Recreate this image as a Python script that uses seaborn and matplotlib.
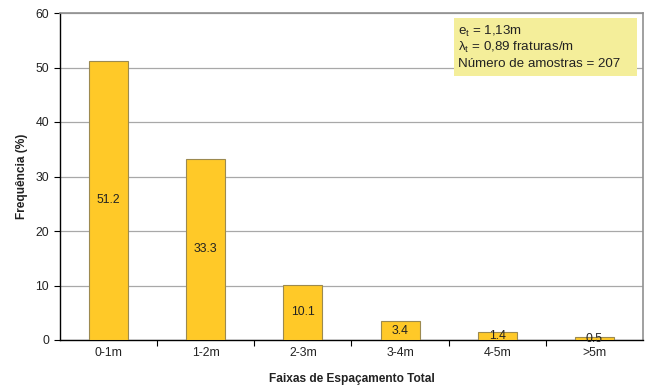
import matplotlib
matplotlib.use("Agg")
import matplotlib.pyplot as plt
import matplotlib.patches as mpatches
import seaborn as sns
import pandas as pd

categories = ["0-1m", "1-2m", "2-3m", "3-4m", "4-5m", ">5m"]
frequencies = [51.2, 33.3, 10.1, 3.4, 1.4, 0.5]
y_ticks = [0, 10, 20, 30, 40, 50, 60]

sns.set_style("white")
plt.rcParams["font.family"] = ["Liberation Sans", "DejaVu Sans"]

df = pd.DataFrame({"faixa": categories, "freq": frequencies})

W, H = 647, 386
fig = plt.figure(figsize=(W / 100, H / 100), dpi=100)
ax = fig.add_axes([60 / W, 46 / H, 583 / W, 327 / H])

sns.barplot(data=df, x="faixa", y="freq", ax=ax, color="#FFC928",
            saturation=1, width=0.4, edgecolor="#9C8A50", linewidth=0.8,
            zorder=3)

ax.set_ylim(0, 60)
ax.set_yticks(y_ticks)
ax.set_xlim(-0.5, len(categories) - 0.5)
ax.yaxis.grid(True, color="#A8A8A8", linewidth=0.9, zorder=0)
ax.set_axisbelow(True)

for s in ["top", "right"]:
    ax.spines[s].set_color("#909090")
    ax.spines[s].set_linewidth(1.2)
for s in ["left", "bottom"]:
    ax.spines[s].set_color("black")
    ax.spines[s].set_linewidth(1.0)

# category ticks sit between the bars
ax.set_xticks([i + 0.5 for i in range(len(categories) - 1)], minor=True)
ax.tick_params(axis="x", which="major", length=0, pad=5, labelsize=8.8,
               labelcolor="#222222")
ax.tick_params(axis="x", which="minor", length=4, width=0.8, direction="out",
               color="black", bottom=True)
ax.tick_params(axis="y", length=4, width=0.8, direction="out", color="black",
               left=True, labelsize=8.8, pad=4, labelcolor="#222222")

for i, v in enumerate(frequencies):
    ax.text(i, v / 2, f"{v:.1f}", ha="center", va="center", fontsize=8.8,
            color="#222222", zorder=4)

ax.set_xlabel("Faixas de Espaçamento Total", fontsize=8.6, fontweight="bold",
              labelpad=10, color="#222222")
ax.set_ylabel("Frequência (%)", fontsize=8.6, fontweight="bold", labelpad=5,
              color="#222222")

# info box in the upper right corner
fig.patches.append(mpatches.Rectangle((454 / W, 1 - 76 / H), 183 / W, 58 / H,
                                      transform=fig.transFigure,
                                      facecolor="#F4EE9A", edgecolor="none",
                                      zorder=9))
info_lines = ["$\\mathregular{e_t}$ = 1,13m",
              "$\\mathregular{\\lambda_t}$ = 0,89 fraturas/m",
              "Número de amostras = 207"]
for k, line in enumerate(info_lines):
    fig.text(458 / W, 1 - (31 + 16.5 * k) / H, line, fontsize=9.6,
             va="center", ha="left", zorder=10, color="#222222")

fig.savefig("out.png", dpi=100)
